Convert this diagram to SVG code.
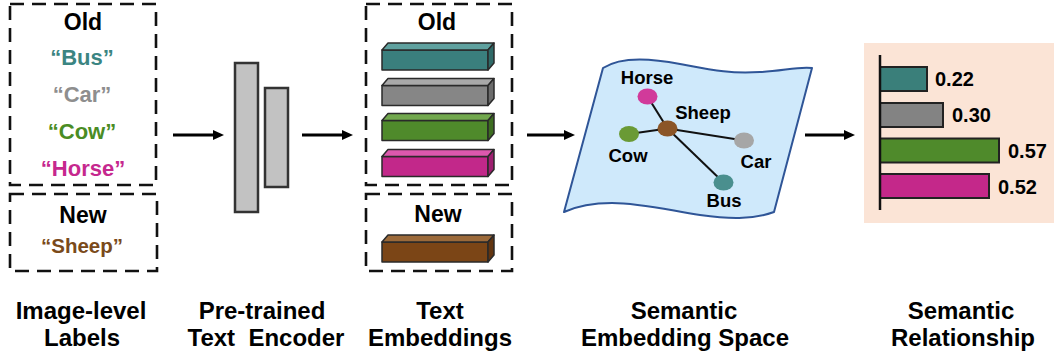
<svg xmlns="http://www.w3.org/2000/svg" width="1054" height="360" viewBox="0 0 1054 360">
  <defs>
    <style>
      .t { font-family: "Liberation Sans", Arial, sans-serif; font-weight: bold; text-anchor: middle; }
      .dash { fill: none; stroke: #111; stroke-width: 2.6; stroke-dasharray: 14 8; }
      .enc { fill: #c2c2c2; stroke: #333; stroke-width: 2.5; }
      .edge { stroke: #111; stroke-width: 2; }
      .arrow { stroke: #000; stroke-width: 3; marker-end: url(#head); }
      .bar { stroke: #222; stroke-width: 2; }
      .emb { stroke: #2a2a2a; stroke-width: 1.5; stroke-linejoin: round; }
      .val { font-family: "Liberation Sans", Arial, sans-serif; font-weight: bold; font-size: 20px; }
    </style>
    <marker id="head" viewBox="0 0 11 10" refX="1" refY="5" markerWidth="11" markerHeight="10" markerUnits="userSpaceOnUse" orient="auto">
      <path d="M0,0 L11,5 L0,10 Z" fill="#000"/>
    </marker>
    <!-- 3D embedding bar: front face 106x20, depth (6,-7) -->
    <g id="barShape">
      <path class="emb front" d="M0,0 H106 V20 H0 Z"/>
      <path class="emb top" d="M0,0 L6,-7 H112 L106,0 Z"/>
      <path class="emb side" d="M106,0 L112,-7 V13 L106,20 Z"/>
    </g>
  </defs>

  <!-- Image-level labels -->
  <g id="labels-old">
    <rect class="dash" x="10" y="4" width="146" height="181"/>
    <text class="t" x="83" y="30" font-size="23" fill="#000">Old</text>
    <text class="t" x="82" y="65" font-size="22" fill="#3b8582">“Bus”</text>
    <text class="t" x="82" y="102" font-size="22" fill="#8e8e8e">“Car”</text>
    <text class="t" x="82" y="139" font-size="22" fill="#4a8c24">“Cow”</text>
    <text class="t" x="83" y="176" font-size="22" fill="#c6288e">“Horse”</text>
  </g>
  <g id="labels-new">
    <rect class="dash" x="10" y="194" width="147" height="77"/>
    <text class="t" x="83" y="223" font-size="23" fill="#000">New</text>
    <text class="t" x="82" y="253" font-size="20.5" fill="#7a4a1a">“Sheep”</text>
  </g>

  <!-- Pre-trained text encoder -->
  <g id="encoder">
    <rect class="enc" x="235" y="63" width="23" height="149"/>
    <rect class="enc" x="265" y="88" width="23" height="99"/>
  </g>

  <!-- Text embeddings -->
  <g id="embeddings-old">
    <rect class="dash" x="366" y="4" width="146" height="181"/>
    <text class="t" x="437" y="30" font-size="23" fill="#000">Old</text>
    <g transform="translate(382,50)">
      <path class="emb" d="M0,0 H106 V20 H0 Z" fill="#3a7f7d"/>
      <path class="emb" d="M0,0 L6,-7 H112 L106,0 Z" fill="#5fa19f"/>
      <path class="emb" d="M106,0 L112,-7 V13 L106,20 Z" fill="#2f6a68"/>
    </g>
    <g transform="translate(382,85.5)">
      <path class="emb" d="M0,0 H106 V20 H0 Z" fill="#868686"/>
      <path class="emb" d="M0,0 L6,-7 H112 L106,0 Z" fill="#a9a9a9"/>
      <path class="emb" d="M106,0 L112,-7 V13 L106,20 Z" fill="#6c6c6c"/>
    </g>
    <g transform="translate(382,120.5)">
      <path class="emb" d="M0,0 H106 V20 H0 Z" fill="#4f8a2b"/>
      <path class="emb" d="M0,0 L6,-7 H112 L106,0 Z" fill="#72a84e"/>
      <path class="emb" d="M106,0 L112,-7 V13 L106,20 Z" fill="#3d6d20"/>
    </g>
    <g transform="translate(382,156.5)">
      <path class="emb" d="M0,0 H106 V20 H0 Z" fill="#c2288a"/>
      <path class="emb" d="M0,0 L6,-7 H112 L106,0 Z" fill="#dc58ad"/>
      <path class="emb" d="M106,0 L112,-7 V13 L106,20 Z" fill="#9e1f70"/>
    </g>
  </g>
  <g id="embeddings-new">
    <rect class="dash" x="366" y="194" width="146" height="77"/>
    <text class="t" x="438" y="222" font-size="23" fill="#000">New</text>
    <g transform="translate(382,242)">
      <path class="emb" d="M0,0 H106 V20 H0 Z" fill="#7b4516"/>
      <path class="emb" d="M0,0 L6,-7 H112 L106,0 Z" fill="#9c6a3a"/>
      <path class="emb" d="M106,0 L112,-7 V13 L106,20 Z" fill="#623510"/>
    </g>
  </g>

  <!-- Semantic embedding space -->
  <g id="semantic-space">
    <path d="M603,68 C618,58 645,57 680,64 C712,70 730,74 760,72 C782,71 800,66 812,68 L774,212 C752,220 728,219 700,215 C668,210 640,203 612,203 C590,203 575,207 564,212 Z"
          fill="#cfe9fb" stroke="#2f5597" stroke-width="2" stroke-linejoin="round"/>
    <line class="edge" x1="647.5" y1="96.5" x2="667.5" y2="128.5"/>
    <line class="edge" x1="629" y1="134" x2="667.5" y2="128.5"/>
    <line class="edge" x1="667.5" y1="128.5" x2="744" y2="140.5"/>
    <line class="edge" x1="667.5" y1="128.5" x2="723.5" y2="182.5"/>
    <ellipse cx="647.5" cy="96.5" rx="10" ry="8" fill="#d13a9a"/>
    <ellipse cx="667.5" cy="128.5" rx="10" ry="8" fill="#8b5527"/>
    <ellipse cx="629" cy="134" rx="10" ry="8" fill="#6a9a35"/>
    <ellipse cx="744" cy="140.5" rx="10" ry="8" fill="#a6a6a6"/>
    <ellipse cx="723.5" cy="182.5" rx="10" ry="8" fill="#4a8f8e"/>
    <text class="t" x="647" y="84" font-size="18.5" fill="#000">Horse</text>
    <text class="t" x="703" y="119" font-size="18.5" fill="#000">Sheep</text>
    <text class="t" x="628" y="161.5" font-size="18.5" fill="#000">Cow</text>
    <text class="t" x="756" y="168" font-size="18.5" fill="#000">Car</text>
    <text class="t" x="724" y="207" font-size="18.5" fill="#000">Bus</text>
  </g>

  <!-- Semantic relationship chart -->
  <g id="relationship">
    <rect x="864" y="43" width="190" height="180" fill="#fbe4d6"/>
    <rect class="bar" x="880" y="67" width="47" height="24" fill="#3a7f7a"/>
    <rect class="bar" x="880" y="103" width="63" height="24" fill="#838383"/>
    <rect class="bar" x="880" y="138.5" width="119" height="24" fill="#4f8a2b"/>
    <rect class="bar" x="880" y="174" width="109" height="24" fill="#c4288a"/>
    <line x1="880" y1="55" x2="880" y2="210" stroke="#111" stroke-width="2.5"/>
    <text class="val" x="935" y="86">0.22</text>
    <text class="val" x="952" y="122">0.30</text>
    <text class="val" x="1008" y="158">0.57</text>
    <text class="val" x="998" y="194">0.52</text>
  </g>

  <!-- Connectors -->
  <g id="connectors">
    <line class="arrow" x1="173" y1="135" x2="214" y2="135"/>
    <line class="arrow" x1="302" y1="135" x2="343" y2="135"/>
    <line class="arrow" x1="527" y1="135" x2="565" y2="135"/>
    <line class="arrow" x1="805" y1="135" x2="845" y2="135"/>
  </g>

  <!-- Stage captions -->
  <g id="captions" font-size="24">
    <text class="t" x="81" y="319">Image-level</text>
    <text class="t" x="82" y="346">Labels</text>
    <text class="t" x="262" y="319">Pre-trained</text>
    <text class="t" x="266" y="346" xml:space="preserve">Text  Encoder</text>
    <text class="t" x="440" y="319">Text</text>
    <text class="t" x="440" y="346">Embeddings</text>
    <text class="t" x="684" y="319">Semantic</text>
    <text class="t" x="685" y="346">Embedding Space</text>
    <text class="t" x="961" y="319">Semantic</text>
    <text class="t" x="963" y="346">Relationship</text>
  </g>
</svg>
